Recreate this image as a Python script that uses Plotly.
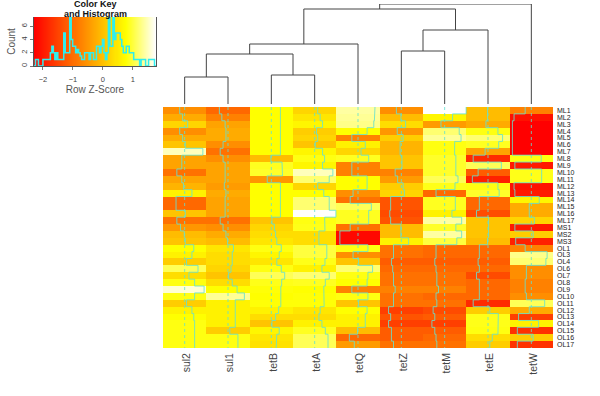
import numpy as np
import plotly.graph_objects as go

W, H = 600, 396

columns = ["sul2", "sul1", "tetB", "tetA", "tetQ", "tetZ", "tetM", "tetE", "tetW"]
rows = ["ML1","ML2","ML3","ML4","ML5","ML6","ML7","ML8","ML9","ML10","ML11","ML12","ML13","ML14","ML15","ML16","ML17",
        "MS1","MS2","MS3","OL1","OL3","OL4","OL6","OL7","OL8","OL9","OL10","OL11","OL12","OL13","OL14","OL15","OL16","OL17"]

sul2 = [-.6,-.25,.25,-.6,-.25,.05,1.5,-.35,-.35,-.95,-.35,-.15,.6,-1.05,-1.05,.05,-.95,-.5,-.05,.05,.75,.6,.15,1.1,.35,.82,1.6,.82,.15,.6,.75,.82,.82,.82,.82]
sul1 = [-1.05,-.75,-.35,-.25,-.25,-.6,-.95,-.6,-.35,-.35,-.35,-.45,-.25,-.35,-.35,-.35,-.95,-.6,-.25,-.05,.45,.35,.35,.25,.05,.35,.75,1.35,.6,.6,.6,.6,.15,.82,.82]
tetB = [.75,.75,.75,.75,.75,.75,.75,-.05,.88,.92,-.5,.75,.75,.75,.75,.75,.05,.25,.35,.45,.82,.65,.45,.82,1.1,.85,.78,.75,.78,.6,.35,.05,.65,.45,.4]
tetA = [.25,.45,.65,.15,.25,.05,.65,.82,.65,1.5,1.2,.25,.75,1.2,1.2,1.75,.82,.85,.35,.35,1,1,.85,.6,1.2,.88,.75,.78,.78,.45,.35,.6,.88,1.1,1.1]
tetQ = [1.4,1.35,1.3,.75,-.75,.6,.25,.88,-.75,-.75,.75,.75,-.6,-.95,1.1,.88,.88,-.95,-2.2,-2.2,.82,-.6,.05,1.2,.82,.75,-.75,.82,.05,.75,.6,.6,-.05,-1.05,-.45]
tetZ = [-.6,-.05,.35,-.5,.15,-.15,-.15,.05,.05,-.75,-.45,.15,.25,-1.3,-1.3,-1.4,-1.3,-.05,-.05,.6,-.95,-.95,-1.2,-1.05,-.95,-.95,-.75,-.95,-.95,-1.55,-1.3,-1.55,-1.2,-1.2,-.95]
tetM = [1.77,.65,-.45,1.2,1.35,.82,.82,.92,.92,.92,1.1,.85,-1.05,.88,.88,.6,1.4,.92,1.4,1,-1.05,-1.05,-1.2,-1.05,-.95,-.95,-.75,-1.05,-.95,-1.4,-1.2,-1.55,-1.2,-1.05,-.95]
tetE = [-.05,-.05,-.25,.82,1.2,.88,-.35,-1.8,1.1,-1.2,-1.9,.82,.92,-1.05,-1.05,-1.4,.05,.05,.05,-.05,-1.05,-1.05,-1.2,-1.05,-1.4,-1.05,-1.05,-1.05,-1.8,.15,.85,.85,.82,.35,.15]
tetW = [-.75,-2.1,-2.3,-2.3,-2.3,-2.3,-2.3,.82,-2,.85,.85,-2.1,-2,.65,-.25,-.25,.25,-2,.15,-1.9,-.75,1.3,1.2,-.6,-.6,-.75,-.75,-.6,1.1,-.25,-1.55,.6,-1.7,.15,-1.7]
matrix = np.array([sul2, sul1, tetB, tetA, tetQ, tetZ, tetM, tetE, tetW]).T

# dendrogram merges: left child, right child, height (negative = leaf index -(i+1))
merge_left  = [-1, -3, 0, 2, -6, 4, 3, 6]
merge_right = [-2, -4, 1, -5, -7, -8, 5, -9]
merge_height = [27, 29, 50, 60, 53, 74, 95, 100]

hist_counts = [0,1,1,0,0,0,1,1,1,1,1,2,3,2,1,2,1,1,1,1,5,2,2,2,7.5,4,3,3,2,2.5,2,1.5,1,1,2,2,2,1,2,2,1,1,3,3,2,3,4,2,1,2,7.5,3,3,7.5,4,5,5,5,4,3,2,2,3,3,2,2,2,1,1,1,1,0,1,1,1,0,0,1,1,1,1,0]
hist_lo, hist_hi = -2.3, 1.77
zmin, zmax = -2.3, 1.77
colorscale = [[0, "#FF0000"], [.75, "#FFFF00"], [1, "#FFFFFF"]]
trace_neg, trace_pos = 0.19, 0.28
trace_color = "rgba(105,225,205,0.85)"
vline_color = "rgba(95,225,210,0.8)"
txt = "#3a3a3a"

def dx(a, b): return [a / W, b / W]
def dy(top, bottom): return [1 - bottom / H, 1 - top / H]

fig = go.Figure()

fig.add_trace(go.Heatmap(z=matrix, x=list(range(9)), y=list(range(35)), colorscale=colorscale,
                         zmin=zmin, zmax=zmax, showscale=False, xaxis="x", yaxis="y", xgap=0, ygap=0))
for c in range(9):
    fig.add_trace(go.Scatter(x=[c, c], y=[-.5, 34.5], mode="lines", xaxis="x", yaxis="y",
                             line=dict(color=vline_color, width=1, dash="3px,3px"), showlegend=False))
    xs, ys = [], []
    for r in range(35):
        z = matrix[r, c]
        v = c + z * (trace_neg if z < 0 else trace_pos)
        xs += [v, v]
        ys += [r - .5, r + .5]
    fig.add_trace(go.Scatter(x=xs, y=ys, mode="lines", xaxis="x", yaxis="y",
                             line=dict(color=trace_color, width=1), showlegend=False))

pos, hts = {}, {}
dxs, dys = [], []
def node(i):
    if i < 0:
        return -i - 1, 0
    return pos[i], hts[i]
for k, (l, r, h) in enumerate(zip(merge_left, merge_right, merge_height)):
    xl, yl = node(l)
    xr, yr = node(r)
    dxs += [xl, xl, xr, xr, None]
    dys += [yl, h, h, yr, None]
    pos[k] = (xl + xr) / 2
    hts[k] = h
fig.add_trace(go.Scatter(x=dxs, y=dys, mode="lines", xaxis="x2", yaxis="y2",
                         line=dict(color="#444444", width=1), showlegend=False))

key_x = np.linspace(zmin, zmax, 120)
fig.add_trace(go.Heatmap(z=[key_x, key_x], x=key_x, y=[0, 7.4], colorscale=colorscale, zmin=zmin, zmax=zmax,
                         showscale=False, xaxis="x3", yaxis="y3"))
bw = (hist_hi - hist_lo) / len(hist_counts)
hx, hy = [hist_lo], [0]
for i, n in enumerate(hist_counts):
    hx += [hist_lo + i * bw, hist_lo + (i + 1) * bw]
    hy += [n, n]
hx.append(hist_hi); hy.append(0)
fig.add_trace(go.Scatter(x=hx, y=hy, mode="lines", xaxis="x3", yaxis="y3",
                         line=dict(color="#30EEEE", width=1.5), showlegend=False))

fig.update_layout(
    width=W, height=H, margin=dict(l=0, r=0, t=0, b=0), paper_bgcolor="white", plot_bgcolor="white",
    font=dict(family="Liberation Sans", color=txt), showlegend=False,
    xaxis=dict(domain=dx(163, 553), range=[-.5, 8.5], tickvals=list(range(9)), ticktext=columns, tickangle=-90,
               showgrid=False, zeroline=False, ticks="", tickfont=dict(size=10.5, color="#444"),
               ticklabelstandoff=2, ticklabelshift=2),
    yaxis=dict(domain=dy(107, 348), range=[34.5, -.5], tickvals=list(range(35)), ticktext=rows, side="right",
               showgrid=False, zeroline=False, ticks="", tickfont=dict(size=7, color="#222"), anchor="x",
               ticklabelstandoff=3),
    xaxis2=dict(domain=dx(163, 553), range=[-.5, 8.5], visible=False, anchor="y2"),
    yaxis2=dict(domain=dy(4, 104), range=[0, 100], visible=False, anchor="x2"),
    xaxis3=dict(domain=dx(34, 156), range=[-2.3, 1.77], tickvals=[-2, -1, 0, 1], ticks="outside", ticklen=3, tickwidth=1,
                tickcolor="#777", showgrid=False, zeroline=False, showline=True, linecolor="#555", linewidth=1,
                tickfont=dict(size=7.5, color="#444"), anchor="y3", ticklabelstandoff=3,
                title=dict(text="Row Z-Score", font=dict(size=10, color="#555"), standoff=0)),
    yaxis3=dict(domain=dy(17, 66), range=[0, 7.4], tickvals=[0, 2, 4, 6], ticks="outside", ticklen=3, tickwidth=1,
                tickcolor="#777", showgrid=False, zeroline=False, showline=True, linecolor="#555", linewidth=1,
                tickangle=-90, tickfont=dict(size=7.5, color="#444"), anchor="x3", mirror=True,
                title=dict(text="Count", font=dict(size=10, color="#555"), standoff=2)),
    annotations=[
        dict(text="<b>Color Key</b>", x=95 / W, y=1 - 4 / H, xref="paper", yref="paper", showarrow=False,
             xanchor="center", yanchor="middle", font=dict(size=9, color="#111")),
        dict(text="<b>and Histogram</b>", x=95 / W, y=1 - 14 / H, xref="paper", yref="paper", showarrow=False,
             xanchor="center", yanchor="middle", font=dict(size=9, color="#111")),
    ],
)

fig.write_html("out.html", config=dict(displayModeBar=False),
               post_script="document.body.style.margin='0';document.body.style.overflow='hidden';")
